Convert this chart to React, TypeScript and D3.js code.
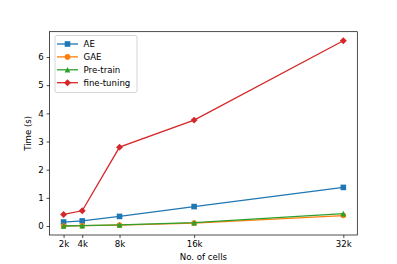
import { useEffect, useRef } from "react";
import * as d3 from "d3";

const WIDTH = 397;
const HEIGHT = 264;
const MARGIN = { top: 31.7, right: 39.7, bottom: 29, left: 49.6 };

const cells = [2, 4, 8, 16, 32];
const tickLabels = ["2k", "4k", "8k", "16k", "32k"];
const aeTime = [0.14, 0.18, 0.34, 0.69, 1.37];
const gaeTime = [0.0, 0.01, 0.03, 0.1, 0.37];
const pretrainTime = [0.0, 0.01, 0.04, 0.12, 0.44];
const finetuneTime = [0.41, 0.54, 2.8, 3.76, 6.58];

type Series = { name: string; color: string; marker: string; values: number[] };

const series: Series[] = [
  { name: "AE", color: "#1f77b4", marker: "square", values: aeTime },
  { name: "GAE", color: "#ff7f0e", marker: "circle", values: gaeTime },
  { name: "Pre-train", color: "#2ca02c", marker: "triangle", values: pretrainTime },
  { name: "fine-tuning", color: "#d62728", marker: "diamond", values: finetuneTime },
];

const FONT = "DejaVu Sans, sans-serif";
const FS = 8.6;

function drawMarker(g: any, kind: string, cx: number, cy: number, color: string) {
  const s = 5.6;
  if (kind === "square") {
    g.append("rect")
      .attr("x", cx - s / 2)
      .attr("y", cy - s / 2)
      .attr("width", s)
      .attr("height", s)
      .attr("fill", color);
  } else if (kind === "circle") {
    g.append("circle").attr("cx", cx).attr("cy", cy).attr("r", s / 2).attr("fill", color);
  } else if (kind === "triangle") {
    const r = s / 2;
    g.append("path")
      .attr("d", `M${cx},${cy - r}L${cx + r},${cy + r}L${cx - r},${cy + r}Z`)
      .attr("fill", color);
  } else {
    const r = s * 0.62;
    g.append("path")
      .attr("d", `M${cx},${cy - r}L${cx + r},${cy}L${cx},${cy + r}L${cx - r},${cy}Z`)
      .attr("fill", color);
  }
}

export default function App() {
  const svgRef = useRef<SVGSVGElement | null>(null);

  useEffect(() => {
    if (!svgRef.current) return;
    const svg = d3.select(svgRef.current);
    svg.selectAll("*").remove();

    const innerW = WIDTH - MARGIN.left - MARGIN.right;
    const innerH = HEIGHT - MARGIN.top - MARGIN.bottom;

    const x = d3.scaleLinear().domain([0.5, 33.5]).range([0, innerW]);
    const y = d3.scaleLinear().domain([-0.32, 6.9]).range([innerH, 0]);

    const g = svg.append("g").attr("transform", `translate(${MARGIN.left},${MARGIN.top})`);

    // lines + markers
    series.forEach((s) => {
      const line = d3
        .line<number>()
        .x((_, i) => x(cells[i]))
        .y((d) => y(d));
      g.append("path")
        .datum(s.values)
        .attr("d", line)
        .attr("fill", "none")
        .attr("stroke", s.color)
        .attr("stroke-width", 1.3);
      s.values.forEach((v, i) => drawMarker(g, s.marker, x(cells[i]), y(v), s.color));
    });

    // frame
    g.append("rect")
      .attr("width", innerW)
      .attr("height", innerH)
      .attr("fill", "none")
      .attr("stroke", "#000")
      .attr("stroke-width", 0.7);

    // x axis
    const xAxis = g
      .append("g")
      .attr("transform", `translate(0,${innerH})`)
      .call(
        d3
          .axisBottom(x)
          .tickValues(cells)
          .tickFormat((_, i) => tickLabels[i])
          .tickSize(3)
          .tickPadding(3),
      );
    xAxis.select(".domain").remove();
    xAxis.selectAll("line").attr("stroke-width", 0.7);
    xAxis.selectAll("text").style("font-family", FONT).style("font-size", `${FS}px`).attr("fill", "#000");

    // y axis
    const yAxis = g
      .append("g")
      .call(d3.axisLeft(y).tickValues([0, 1, 2, 3, 4, 5, 6]).tickFormat(d3.format("d")).tickSize(3).tickPadding(3));
    yAxis.select(".domain").remove();
    yAxis.selectAll("line").attr("stroke-width", 0.7);
    yAxis.selectAll("text").style("font-family", FONT).style("font-size", `${FS}px`).attr("fill", "#000");

    // axis labels
    svg
      .append("text")
      .attr("x", MARGIN.left + innerW / 2)
      .attr("y", 260)
      .attr("text-anchor", "middle")
      .style("font-family", FONT)
      .style("font-size", `${FS}px`)
      .text("No. of cells");

    svg
      .append("text")
      .attr("transform", `translate(30.5,${MARGIN.top + innerH / 2}) rotate(-90)`)
      .attr("text-anchor", "middle")
      .style("font-family", FONT)
      .style("font-size", `${FS}px`)
      .text("Time (s)");

    // legend
    const legend = svg.append("g").attr("transform", `translate(55,35.5)`);
    legend
      .append("rect")
      .attr("width", 82)
      .attr("height", 57)
      .attr("rx", 2)
      .attr("fill", "#fff")
      .attr("fill-opacity", 0.8)
      .attr("stroke", "#ccc")
      .attr("stroke-width", 0.8);
    series.forEach((s, i) => {
      const cy = 8.5 + i * 12.9;
      legend
        .append("line")
        .attr("x1", 2)
        .attr("x2", 23)
        .attr("y1", cy)
        .attr("y2", cy)
        .attr("stroke", s.color)
        .attr("stroke-width", 1.3);
      drawMarker(legend, s.marker, 12.5, cy, s.color);
      legend
        .append("text")
        .attr("x", 28.5)
        .attr("y", cy)
        .attr("dy", "0.35em")
        .style("font-family", FONT)
        .style("font-size", `${FS}px`)
        .text(s.name);
    });
  }, []);

  return (
    <svg
      ref={svgRef}
      width={WIDTH}
      height={HEIGHT}
      style={{ position: "absolute", left: 0, top: 0, background: "#fff" }}
    />
  );
}
